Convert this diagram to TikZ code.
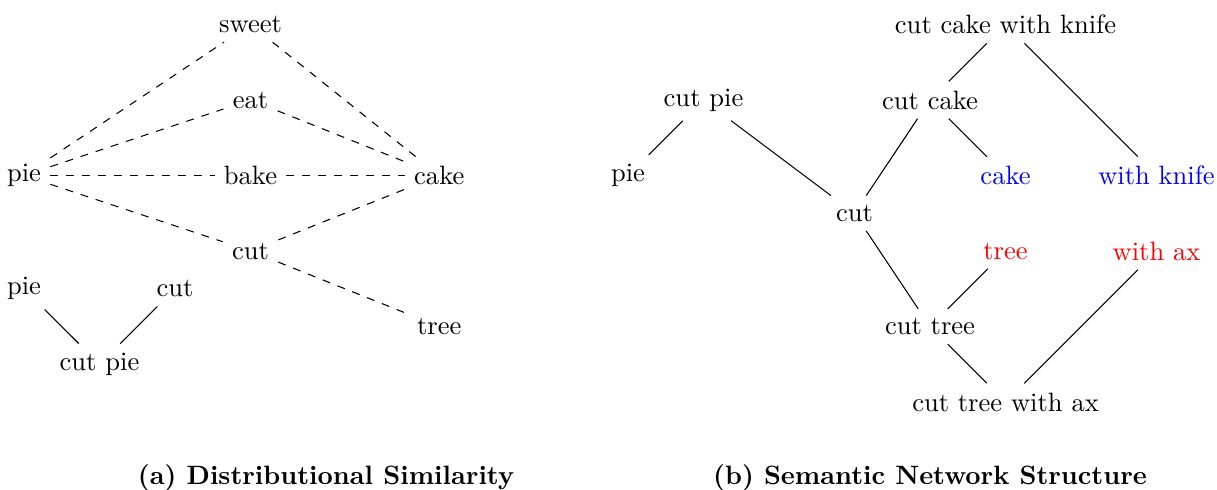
\documentclass[tikz,border=0pt]{standalone}
\begin{document}
\begin{tikzpicture}[x=1cm,y=1cm,
  word/.style={inner sep=0.3333em},
  dist/.style={dashed},
  link/.style={},
  subcaption/.style={font=\bfseries}]
\useasboundingbox (-0.318,0.3246) rectangle (15.801,-6.1524);

% (a) distributional similarity
\node[word] (pie)   at (0,-2)   {pie};
\node[word] (sweet) at (3,0)    {sweet};
\node[word] (eat)   at (3,-1)   {eat};
\node[word] (bake)  at (3,-2)   {bake};
\node[word] (cake)  at (5.5,-2) {cake};
\node[word] (cut)   at (3,-3)   {cut};
\node[word] (tree)  at (5.5,-4) {tree};
\foreach \a/\b in {pie/sweet,pie/eat,pie/bake,pie/cut,
                   sweet/cake,eat/cake,bake/cake,cut/cake,cut/tree}
  \draw[dist] (\a) -- (\b);

\node[word] (lpie)    at (0,-3.5) {pie};
\node[word] (lcut)    at (2,-3.5) {cut};
\node[word] (lcutpie) at (1,-4.5) {cut pie};
\draw[link] (lpie) -- (lcutpie);
\draw[link] (lcut) -- (lcutpie);

\node[subcaption] (capa) at (4,-6) {(a) Distributional Similarity};

% (b) semantic network structure
\node[word] (ckk)    at (13,0)   {cut cake with knife};
\node[word] (cpie)   at (9,-1)   {cut pie};
\node[word] (ccake)  at (12,-1)  {cut cake};
\node[word] (rpie)   at (8,-2)   {pie};
\node[word,text=blue] (rcake) at (13,-2) {cake};
\node[word,text=blue] (knife) at (15,-2) {with knife};
\node[word] (rcut)   at (11,-2.5) {cut};
\node[word,text=red] (rtree) at (13,-3) {tree};
\node[word,text=red] (ax)    at (15,-3) {with ax};
\node[word] (ctree)  at (12,-4)  {cut tree};
\node[word] (ctwa)   at (13,-5)  {cut tree with ax};
\foreach \a/\b in {ckk/ccake,ckk/knife,ccake/rcake,ccake/rcut,
                   cpie/rpie,cpie/rcut,rcut/ctree,ctree/rtree,
                   ctree/ctwa,ctwa/ax}
  \draw[link] (\a) -- (\b);

\node[subcaption] (capb) at (12,-6) {(b) Semantic Network Structure};
\end{tikzpicture}
\end{document}
